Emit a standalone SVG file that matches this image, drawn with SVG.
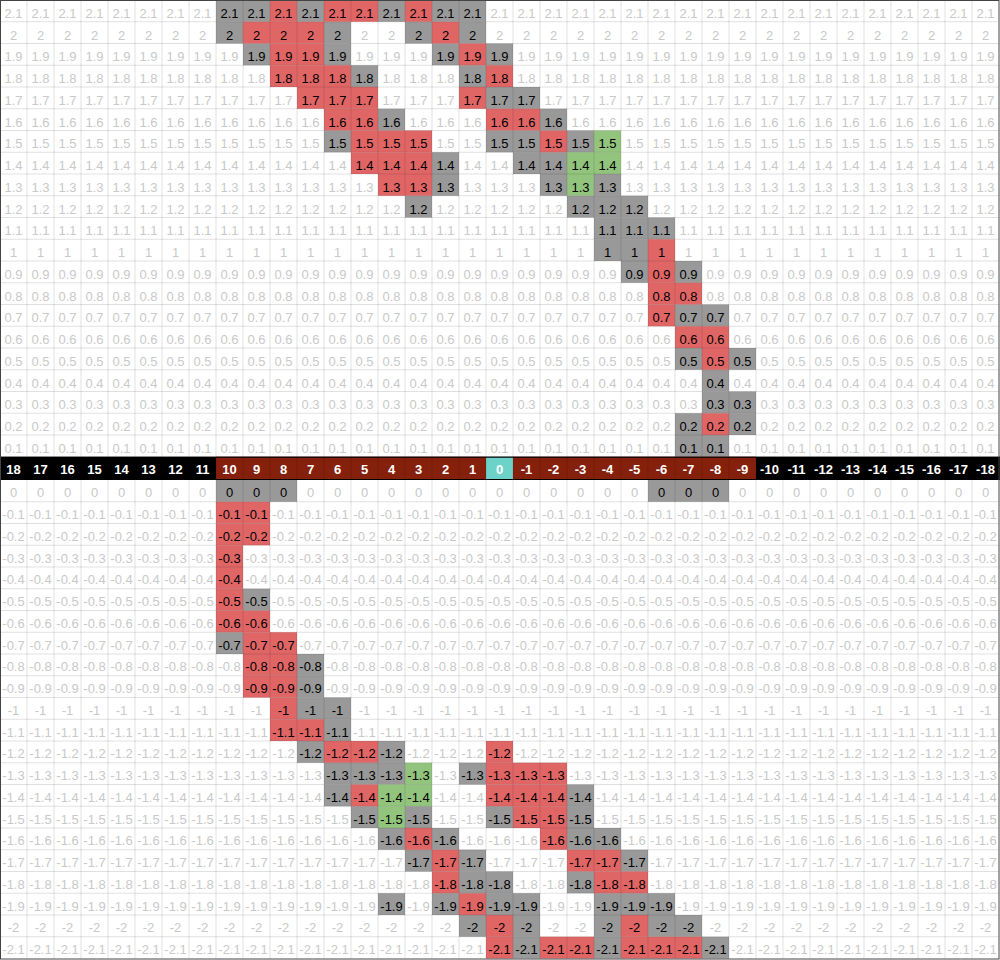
<svg xmlns="http://www.w3.org/2000/svg" width="1000" height="960" viewBox="0 0 1000 960">
<style>
text{font-family:"Liberation Sans",Arial,sans-serif;font-size:13px;text-anchor:middle;fill:#c9c9c9}
.k{fill:#000}
#axis text{fill:#fff;font-weight:bold}
.c rect{width:27px;height:21.75px}
</style>
<rect x="0" y="0" width="1000" height="960" fill="#fff"/>
<g id="fills" class="c">
<g id="gray" fill="#999">
<rect x="216" y="0"/><rect x="243" y="0"/><rect x="297" y="0"/><rect x="378" y="0"/><rect x="432" y="0"/><rect x="459" y="0"/>
<rect x="216" y="21.75"/><rect x="324" y="21.75"/><rect x="405" y="21.75"/><rect x="459" y="21.75"/>
<rect x="243" y="43.5"/><rect x="324" y="43.5"/><rect x="432" y="43.5"/><rect x="486" y="43.5"/>
<rect x="351" y="65.25"/><rect x="459" y="65.25"/>
<rect x="486" y="87"/><rect x="513" y="87"/>
<rect x="378" y="108.75"/><rect x="540" y="108.75"/>
<rect x="324" y="130.5"/><rect x="486" y="130.5"/><rect x="513" y="130.5"/><rect x="567" y="130.5"/>
<rect x="432" y="152.25"/><rect x="513" y="152.25"/><rect x="540" y="152.25"/>
<rect x="432" y="174"/><rect x="540" y="174"/><rect x="594" y="174"/>
<rect x="405" y="195.75"/><rect x="567" y="195.75"/><rect x="594" y="195.75"/><rect x="621" y="195.75"/>
<rect x="594" y="217.5"/><rect x="621" y="217.5"/><rect x="648" y="217.5"/>
<rect x="594" y="239.25"/><rect x="621" y="239.25"/>
<rect x="621" y="261"/><rect x="675" y="261"/>
<rect x="675" y="304.5"/><rect x="702" y="304.5"/>
<rect x="675" y="348"/><rect x="729" y="348"/>
<rect x="702" y="369.75"/>
<rect x="702" y="391.5"/><rect x="729" y="391.5"/>
<rect x="675" y="413.25"/><rect x="729" y="413.25"/>
<rect x="675" y="435"/><rect x="702" y="435"/>
<rect x="216" y="480"/><rect x="243" y="480"/><rect x="270" y="480"/><rect x="648" y="480"/><rect x="675" y="480"/><rect x="702" y="480"/>
<rect x="243" y="588.75"/>
<rect x="216" y="632.25"/>
<rect x="297" y="654"/>
<rect x="297" y="675.75"/>
<rect x="297" y="697.5"/><rect x="324" y="697.5"/>
<rect x="324" y="719.25"/>
<rect x="297" y="741"/><rect x="378" y="741"/>
<rect x="324" y="762.75"/><rect x="351" y="762.75"/><rect x="378" y="762.75"/><rect x="459" y="762.75"/>
<rect x="324" y="784.5"/><rect x="567" y="784.5"/>
<rect x="351" y="806.25"/><rect x="405" y="806.25"/><rect x="486" y="806.25"/><rect x="567" y="806.25"/>
<rect x="378" y="828"/><rect x="432" y="828"/><rect x="567" y="828"/><rect x="594" y="828"/>
<rect x="405" y="849.75"/><rect x="459" y="849.75"/><rect x="621" y="849.75"/>
<rect x="459" y="871.5"/><rect x="486" y="871.5"/><rect x="567" y="871.5"/>
<rect x="378" y="893.25"/><rect x="432" y="893.25"/><rect x="486" y="893.25"/><rect x="513" y="893.25"/><rect x="594" y="893.25"/><rect x="621" y="893.25"/><rect x="648" y="893.25"/>
<rect x="459" y="915"/><rect x="513" y="915"/><rect x="594" y="915"/><rect x="648" y="915"/><rect x="675" y="915"/>
<rect x="513" y="936.75"/><rect x="594" y="936.75"/><rect x="702" y="936.75"/>
</g>
<g id="red" fill="#e06666">
<rect x="270" y="0"/><rect x="324" y="0"/><rect x="351" y="0"/><rect x="405" y="0"/>
<rect x="243" y="21.75"/><rect x="270" y="21.75"/><rect x="297" y="21.75"/><rect x="432" y="21.75"/>
<rect x="270" y="43.5"/><rect x="297" y="43.5"/><rect x="459" y="43.5"/>
<rect x="270" y="65.25"/><rect x="297" y="65.25"/><rect x="324" y="65.25"/><rect x="486" y="65.25"/>
<rect x="297" y="87"/><rect x="324" y="87"/><rect x="351" y="87"/><rect x="459" y="87"/>
<rect x="324" y="108.75"/><rect x="351" y="108.75"/><rect x="486" y="108.75"/><rect x="513" y="108.75"/>
<rect x="351" y="130.5"/><rect x="378" y="130.5"/><rect x="405" y="130.5"/><rect x="540" y="130.5"/>
<rect x="351" y="152.25"/><rect x="378" y="152.25"/><rect x="405" y="152.25"/>
<rect x="378" y="174"/><rect x="405" y="174"/>
<rect x="648" y="239.25"/>
<rect x="648" y="261"/>
<rect x="648" y="282.75"/><rect x="675" y="282.75"/>
<rect x="648" y="304.5"/>
<rect x="675" y="326.25"/><rect x="702" y="326.25"/>
<rect x="702" y="348"/>
<rect x="702" y="413.25"/>
<rect x="216" y="501.75"/><rect x="243" y="501.75"/>
<rect x="216" y="523.5"/><rect x="243" y="523.5"/>
<rect x="216" y="545.25"/>
<rect x="216" y="567"/>
<rect x="216" y="588.75"/>
<rect x="216" y="610.5"/><rect x="243" y="610.5"/>
<rect x="243" y="632.25"/><rect x="270" y="632.25"/>
<rect x="243" y="654"/><rect x="270" y="654"/>
<rect x="243" y="675.75"/><rect x="270" y="675.75"/>
<rect x="270" y="697.5"/>
<rect x="270" y="719.25"/><rect x="297" y="719.25"/>
<rect x="324" y="741"/><rect x="351" y="741"/><rect x="486" y="741"/>
<rect x="486" y="762.75"/><rect x="513" y="762.75"/><rect x="540" y="762.75"/>
<rect x="351" y="784.5"/><rect x="486" y="784.5"/><rect x="513" y="784.5"/><rect x="540" y="784.5"/>
<rect x="513" y="806.25"/><rect x="540" y="806.25"/>
<rect x="405" y="828"/><rect x="540" y="828"/>
<rect x="432" y="849.75"/><rect x="567" y="849.75"/><rect x="594" y="849.75"/>
<rect x="432" y="871.5"/><rect x="594" y="871.5"/><rect x="621" y="871.5"/>
<rect x="459" y="893.25"/>
<rect x="486" y="915"/><rect x="621" y="915"/>
<rect x="486" y="936.75"/><rect x="540" y="936.75"/><rect x="567" y="936.75"/><rect x="621" y="936.75"/><rect x="648" y="936.75"/><rect x="675" y="936.75"/>
</g>
<g id="green" fill="#93c47d">
<rect x="594" y="130.5"/>
<rect x="567" y="152.25"/><rect x="594" y="152.25"/>
<rect x="567" y="174"/>
<rect x="405" y="762.75"/>
<rect x="378" y="784.5"/><rect x="405" y="784.5"/>
<rect x="378" y="806.25"/>
</g>
</g>
<g id="axis-row">
<rect x="0" y="456.75" width="1000" height="23.25" fill="#000"/>
<rect x="216" y="456.75" width="540" height="23.25" fill="#85200c"/>
<rect x="486" y="456.75" width="27" height="23.25" fill="#6dd3c9"/>
</g>
<g id="grid" fill="none" stroke="#000" stroke-opacity="0.12" stroke-width="1">
<path d="M0 21.75h999m-999 21.75h999m-999 21.75h999m-999 21.75h999m-999 21.75h999m-999 21.75h999m-999 21.75h999m-999 21.75h999m-999 21.75h999m-999 21.75h999m-999 21.75h999m-999 21.75h999m-999 21.75h999m-999 21.75h999m-999 21.75h999m-999 21.75h999m-999 21.75h999m-999 21.75h999m-999 21.75h999m-999 21.75h999"/>
<path d="M0 501.75h999m-999 21.75h999m-999 21.75h999m-999 21.75h999m-999 21.75h999m-999 21.75h999m-999 21.75h999m-999 21.75h999m-999 21.75h999m-999 21.75h999m-999 21.75h999m-999 21.75h999m-999 21.75h999m-999 21.75h999m-999 21.75h999m-999 21.75h999m-999 21.75h999m-999 21.75h999m-999 21.75h999m-999 21.75h999m-999 21.75h999"/>
<path d="M27 0v958.5m27-958.5v958.5m27-958.5v958.5m27-958.5v958.5m27-958.5v958.5m27-958.5v958.5m27-958.5v958.5m27-958.5v958.5m27-958.5v958.5m27-958.5v958.5m27-958.5v958.5m27-958.5v958.5m27-958.5v958.5m27-958.5v958.5m27-958.5v958.5m27-958.5v958.5m27-958.5v958.5m27-958.5v958.5m27-958.5v958.5m27-958.5v958.5m27-958.5v958.5m27-958.5v958.5m27-958.5v958.5m27-958.5v958.5m27-958.5v958.5m27-958.5v958.5m27-958.5v958.5m27-958.5v958.5m27-958.5v958.5m27-958.5v958.5m27-958.5v958.5m27-958.5v958.5m27-958.5v958.5m27-958.5v958.5m27-958.5v958.5m27-958.5v958.5"/>
</g>
<g id="axis-lines" stroke="#000" stroke-width="1">
<path d="M0 457.25H1000M0 479.5H1000"/>
</g>
<rect id="border" x="0.5" y="0.5" width="998.5" height="958.5" fill="none" stroke="#444" stroke-width="1"/>
<g id="labels">
<g transform="translate(13.5,17.8)"><text x="0">2.1</text><text x="27">2.1</text><text x="54">2.1</text><text x="81">2.1</text><text x="108">2.1</text><text x="135">2.1</text><text x="162">2.1</text><text x="189">2.1</text><text x="216" class="k">2.1</text><text x="243" class="k">2.1</text><text x="270" class="k">2.1</text><text x="297" class="k">2.1</text><text x="324" class="k">2.1</text><text x="351" class="k">2.1</text><text x="378" class="k">2.1</text><text x="405" class="k">2.1</text><text x="432" class="k">2.1</text><text x="459" class="k">2.1</text><text x="486">2.1</text><text x="513">2.1</text><text x="540">2.1</text><text x="567">2.1</text><text x="594">2.1</text><text x="621">2.1</text><text x="648">2.1</text><text x="675">2.1</text><text x="702">2.1</text><text x="729">2.1</text><text x="756">2.1</text><text x="783">2.1</text><text x="810">2.1</text><text x="837">2.1</text><text x="864">2.1</text><text x="891">2.1</text><text x="918">2.1</text><text x="945">2.1</text><text x="972">2.1</text></g>
<g transform="translate(13.5,39.55)"><text x="0">2</text><text x="27">2</text><text x="54">2</text><text x="81">2</text><text x="108">2</text><text x="135">2</text><text x="162">2</text><text x="189">2</text><text x="216" class="k">2</text><text x="243" class="k">2</text><text x="270" class="k">2</text><text x="297" class="k">2</text><text x="324" class="k">2</text><text x="351">2</text><text x="378">2</text><text x="405" class="k">2</text><text x="432" class="k">2</text><text x="459" class="k">2</text><text x="486">2</text><text x="513">2</text><text x="540">2</text><text x="567">2</text><text x="594">2</text><text x="621">2</text><text x="648">2</text><text x="675">2</text><text x="702">2</text><text x="729">2</text><text x="756">2</text><text x="783">2</text><text x="810">2</text><text x="837">2</text><text x="864">2</text><text x="891">2</text><text x="918">2</text><text x="945">2</text><text x="972">2</text></g>
<g transform="translate(13.5,61.3)"><text x="0">1.9</text><text x="27">1.9</text><text x="54">1.9</text><text x="81">1.9</text><text x="108">1.9</text><text x="135">1.9</text><text x="162">1.9</text><text x="189">1.9</text><text x="216">1.9</text><text x="243" class="k">1.9</text><text x="270" class="k">1.9</text><text x="297" class="k">1.9</text><text x="324" class="k">1.9</text><text x="351">1.9</text><text x="378">1.9</text><text x="405">1.9</text><text x="432" class="k">1.9</text><text x="459" class="k">1.9</text><text x="486" class="k">1.9</text><text x="513">1.9</text><text x="540">1.9</text><text x="567">1.9</text><text x="594">1.9</text><text x="621">1.9</text><text x="648">1.9</text><text x="675">1.9</text><text x="702">1.9</text><text x="729">1.9</text><text x="756">1.9</text><text x="783">1.9</text><text x="810">1.9</text><text x="837">1.9</text><text x="864">1.9</text><text x="891">1.9</text><text x="918">1.9</text><text x="945">1.9</text><text x="972">1.9</text></g>
<g transform="translate(13.5,83.05)"><text x="0">1.8</text><text x="27">1.8</text><text x="54">1.8</text><text x="81">1.8</text><text x="108">1.8</text><text x="135">1.8</text><text x="162">1.8</text><text x="189">1.8</text><text x="216">1.8</text><text x="243">1.8</text><text x="270" class="k">1.8</text><text x="297" class="k">1.8</text><text x="324" class="k">1.8</text><text x="351" class="k">1.8</text><text x="378">1.8</text><text x="405">1.8</text><text x="432">1.8</text><text x="459" class="k">1.8</text><text x="486" class="k">1.8</text><text x="513">1.8</text><text x="540">1.8</text><text x="567">1.8</text><text x="594">1.8</text><text x="621">1.8</text><text x="648">1.8</text><text x="675">1.8</text><text x="702">1.8</text><text x="729">1.8</text><text x="756">1.8</text><text x="783">1.8</text><text x="810">1.8</text><text x="837">1.8</text><text x="864">1.8</text><text x="891">1.8</text><text x="918">1.8</text><text x="945">1.8</text><text x="972">1.8</text></g>
<g transform="translate(13.5,104.8)"><text x="0">1.7</text><text x="27">1.7</text><text x="54">1.7</text><text x="81">1.7</text><text x="108">1.7</text><text x="135">1.7</text><text x="162">1.7</text><text x="189">1.7</text><text x="216">1.7</text><text x="243">1.7</text><text x="270">1.7</text><text x="297" class="k">1.7</text><text x="324" class="k">1.7</text><text x="351" class="k">1.7</text><text x="378">1.7</text><text x="405">1.7</text><text x="432">1.7</text><text x="459" class="k">1.7</text><text x="486" class="k">1.7</text><text x="513" class="k">1.7</text><text x="540">1.7</text><text x="567">1.7</text><text x="594">1.7</text><text x="621">1.7</text><text x="648">1.7</text><text x="675">1.7</text><text x="702">1.7</text><text x="729">1.7</text><text x="756">1.7</text><text x="783">1.7</text><text x="810">1.7</text><text x="837">1.7</text><text x="864">1.7</text><text x="891">1.7</text><text x="918">1.7</text><text x="945">1.7</text><text x="972">1.7</text></g>
<g transform="translate(13.5,126.55)"><text x="0">1.6</text><text x="27">1.6</text><text x="54">1.6</text><text x="81">1.6</text><text x="108">1.6</text><text x="135">1.6</text><text x="162">1.6</text><text x="189">1.6</text><text x="216">1.6</text><text x="243">1.6</text><text x="270">1.6</text><text x="297">1.6</text><text x="324" class="k">1.6</text><text x="351" class="k">1.6</text><text x="378" class="k">1.6</text><text x="405">1.6</text><text x="432">1.6</text><text x="459">1.6</text><text x="486" class="k">1.6</text><text x="513" class="k">1.6</text><text x="540" class="k">1.6</text><text x="567">1.6</text><text x="594">1.6</text><text x="621">1.6</text><text x="648">1.6</text><text x="675">1.6</text><text x="702">1.6</text><text x="729">1.6</text><text x="756">1.6</text><text x="783">1.6</text><text x="810">1.6</text><text x="837">1.6</text><text x="864">1.6</text><text x="891">1.6</text><text x="918">1.6</text><text x="945">1.6</text><text x="972">1.6</text></g>
<g transform="translate(13.5,148.3)"><text x="0">1.5</text><text x="27">1.5</text><text x="54">1.5</text><text x="81">1.5</text><text x="108">1.5</text><text x="135">1.5</text><text x="162">1.5</text><text x="189">1.5</text><text x="216">1.5</text><text x="243">1.5</text><text x="270">1.5</text><text x="297">1.5</text><text x="324" class="k">1.5</text><text x="351" class="k">1.5</text><text x="378" class="k">1.5</text><text x="405" class="k">1.5</text><text x="432">1.5</text><text x="459">1.5</text><text x="486" class="k">1.5</text><text x="513" class="k">1.5</text><text x="540" class="k">1.5</text><text x="567" class="k">1.5</text><text x="594" class="k">1.5</text><text x="621">1.5</text><text x="648">1.5</text><text x="675">1.5</text><text x="702">1.5</text><text x="729">1.5</text><text x="756">1.5</text><text x="783">1.5</text><text x="810">1.5</text><text x="837">1.5</text><text x="864">1.5</text><text x="891">1.5</text><text x="918">1.5</text><text x="945">1.5</text><text x="972">1.5</text></g>
<g transform="translate(13.5,170.05)"><text x="0">1.4</text><text x="27">1.4</text><text x="54">1.4</text><text x="81">1.4</text><text x="108">1.4</text><text x="135">1.4</text><text x="162">1.4</text><text x="189">1.4</text><text x="216">1.4</text><text x="243">1.4</text><text x="270">1.4</text><text x="297">1.4</text><text x="324">1.4</text><text x="351" class="k">1.4</text><text x="378" class="k">1.4</text><text x="405" class="k">1.4</text><text x="432" class="k">1.4</text><text x="459">1.4</text><text x="486">1.4</text><text x="513" class="k">1.4</text><text x="540" class="k">1.4</text><text x="567" class="k">1.4</text><text x="594" class="k">1.4</text><text x="621">1.4</text><text x="648">1.4</text><text x="675">1.4</text><text x="702">1.4</text><text x="729">1.4</text><text x="756">1.4</text><text x="783">1.4</text><text x="810">1.4</text><text x="837">1.4</text><text x="864">1.4</text><text x="891">1.4</text><text x="918">1.4</text><text x="945">1.4</text><text x="972">1.4</text></g>
<g transform="translate(13.5,191.8)"><text x="0">1.3</text><text x="27">1.3</text><text x="54">1.3</text><text x="81">1.3</text><text x="108">1.3</text><text x="135">1.3</text><text x="162">1.3</text><text x="189">1.3</text><text x="216">1.3</text><text x="243">1.3</text><text x="270">1.3</text><text x="297">1.3</text><text x="324">1.3</text><text x="351">1.3</text><text x="378" class="k">1.3</text><text x="405" class="k">1.3</text><text x="432" class="k">1.3</text><text x="459">1.3</text><text x="486">1.3</text><text x="513">1.3</text><text x="540" class="k">1.3</text><text x="567" class="k">1.3</text><text x="594" class="k">1.3</text><text x="621">1.3</text><text x="648">1.3</text><text x="675">1.3</text><text x="702">1.3</text><text x="729">1.3</text><text x="756">1.3</text><text x="783">1.3</text><text x="810">1.3</text><text x="837">1.3</text><text x="864">1.3</text><text x="891">1.3</text><text x="918">1.3</text><text x="945">1.3</text><text x="972">1.3</text></g>
<g transform="translate(13.5,213.55)"><text x="0">1.2</text><text x="27">1.2</text><text x="54">1.2</text><text x="81">1.2</text><text x="108">1.2</text><text x="135">1.2</text><text x="162">1.2</text><text x="189">1.2</text><text x="216">1.2</text><text x="243">1.2</text><text x="270">1.2</text><text x="297">1.2</text><text x="324">1.2</text><text x="351">1.2</text><text x="378">1.2</text><text x="405" class="k">1.2</text><text x="432">1.2</text><text x="459">1.2</text><text x="486">1.2</text><text x="513">1.2</text><text x="540">1.2</text><text x="567" class="k">1.2</text><text x="594" class="k">1.2</text><text x="621" class="k">1.2</text><text x="648">1.2</text><text x="675">1.2</text><text x="702">1.2</text><text x="729">1.2</text><text x="756">1.2</text><text x="783">1.2</text><text x="810">1.2</text><text x="837">1.2</text><text x="864">1.2</text><text x="891">1.2</text><text x="918">1.2</text><text x="945">1.2</text><text x="972">1.2</text></g>
<g transform="translate(13.5,235.3)"><text x="0">1.1</text><text x="27">1.1</text><text x="54">1.1</text><text x="81">1.1</text><text x="108">1.1</text><text x="135">1.1</text><text x="162">1.1</text><text x="189">1.1</text><text x="216">1.1</text><text x="243">1.1</text><text x="270">1.1</text><text x="297">1.1</text><text x="324">1.1</text><text x="351">1.1</text><text x="378">1.1</text><text x="405">1.1</text><text x="432">1.1</text><text x="459">1.1</text><text x="486">1.1</text><text x="513">1.1</text><text x="540">1.1</text><text x="567">1.1</text><text x="594" class="k">1.1</text><text x="621" class="k">1.1</text><text x="648" class="k">1.1</text><text x="675">1.1</text><text x="702">1.1</text><text x="729">1.1</text><text x="756">1.1</text><text x="783">1.1</text><text x="810">1.1</text><text x="837">1.1</text><text x="864">1.1</text><text x="891">1.1</text><text x="918">1.1</text><text x="945">1.1</text><text x="972">1.1</text></g>
<g transform="translate(13.5,257.05)"><text x="0">1</text><text x="27">1</text><text x="54">1</text><text x="81">1</text><text x="108">1</text><text x="135">1</text><text x="162">1</text><text x="189">1</text><text x="216">1</text><text x="243">1</text><text x="270">1</text><text x="297">1</text><text x="324">1</text><text x="351">1</text><text x="378">1</text><text x="405">1</text><text x="432">1</text><text x="459">1</text><text x="486">1</text><text x="513">1</text><text x="540">1</text><text x="567">1</text><text x="594" class="k">1</text><text x="621" class="k">1</text><text x="648" class="k">1</text><text x="675">1</text><text x="702">1</text><text x="729">1</text><text x="756">1</text><text x="783">1</text><text x="810">1</text><text x="837">1</text><text x="864">1</text><text x="891">1</text><text x="918">1</text><text x="945">1</text><text x="972">1</text></g>
<g transform="translate(13.5,278.8)"><text x="0">0.9</text><text x="27">0.9</text><text x="54">0.9</text><text x="81">0.9</text><text x="108">0.9</text><text x="135">0.9</text><text x="162">0.9</text><text x="189">0.9</text><text x="216">0.9</text><text x="243">0.9</text><text x="270">0.9</text><text x="297">0.9</text><text x="324">0.9</text><text x="351">0.9</text><text x="378">0.9</text><text x="405">0.9</text><text x="432">0.9</text><text x="459">0.9</text><text x="486">0.9</text><text x="513">0.9</text><text x="540">0.9</text><text x="567">0.9</text><text x="594">0.9</text><text x="621" class="k">0.9</text><text x="648" class="k">0.9</text><text x="675" class="k">0.9</text><text x="702">0.9</text><text x="729">0.9</text><text x="756">0.9</text><text x="783">0.9</text><text x="810">0.9</text><text x="837">0.9</text><text x="864">0.9</text><text x="891">0.9</text><text x="918">0.9</text><text x="945">0.9</text><text x="972">0.9</text></g>
<g transform="translate(13.5,300.55)"><text x="0">0.8</text><text x="27">0.8</text><text x="54">0.8</text><text x="81">0.8</text><text x="108">0.8</text><text x="135">0.8</text><text x="162">0.8</text><text x="189">0.8</text><text x="216">0.8</text><text x="243">0.8</text><text x="270">0.8</text><text x="297">0.8</text><text x="324">0.8</text><text x="351">0.8</text><text x="378">0.8</text><text x="405">0.8</text><text x="432">0.8</text><text x="459">0.8</text><text x="486">0.8</text><text x="513">0.8</text><text x="540">0.8</text><text x="567">0.8</text><text x="594">0.8</text><text x="621">0.8</text><text x="648" class="k">0.8</text><text x="675" class="k">0.8</text><text x="702">0.8</text><text x="729">0.8</text><text x="756">0.8</text><text x="783">0.8</text><text x="810">0.8</text><text x="837">0.8</text><text x="864">0.8</text><text x="891">0.8</text><text x="918">0.8</text><text x="945">0.8</text><text x="972">0.8</text></g>
<g transform="translate(13.5,322.3)"><text x="0">0.7</text><text x="27">0.7</text><text x="54">0.7</text><text x="81">0.7</text><text x="108">0.7</text><text x="135">0.7</text><text x="162">0.7</text><text x="189">0.7</text><text x="216">0.7</text><text x="243">0.7</text><text x="270">0.7</text><text x="297">0.7</text><text x="324">0.7</text><text x="351">0.7</text><text x="378">0.7</text><text x="405">0.7</text><text x="432">0.7</text><text x="459">0.7</text><text x="486">0.7</text><text x="513">0.7</text><text x="540">0.7</text><text x="567">0.7</text><text x="594">0.7</text><text x="621">0.7</text><text x="648" class="k">0.7</text><text x="675" class="k">0.7</text><text x="702" class="k">0.7</text><text x="729">0.7</text><text x="756">0.7</text><text x="783">0.7</text><text x="810">0.7</text><text x="837">0.7</text><text x="864">0.7</text><text x="891">0.7</text><text x="918">0.7</text><text x="945">0.7</text><text x="972">0.7</text></g>
<g transform="translate(13.5,344.05)"><text x="0">0.6</text><text x="27">0.6</text><text x="54">0.6</text><text x="81">0.6</text><text x="108">0.6</text><text x="135">0.6</text><text x="162">0.6</text><text x="189">0.6</text><text x="216">0.6</text><text x="243">0.6</text><text x="270">0.6</text><text x="297">0.6</text><text x="324">0.6</text><text x="351">0.6</text><text x="378">0.6</text><text x="405">0.6</text><text x="432">0.6</text><text x="459">0.6</text><text x="486">0.6</text><text x="513">0.6</text><text x="540">0.6</text><text x="567">0.6</text><text x="594">0.6</text><text x="621">0.6</text><text x="648">0.6</text><text x="675" class="k">0.6</text><text x="702" class="k">0.6</text><text x="729">0.6</text><text x="756">0.6</text><text x="783">0.6</text><text x="810">0.6</text><text x="837">0.6</text><text x="864">0.6</text><text x="891">0.6</text><text x="918">0.6</text><text x="945">0.6</text><text x="972">0.6</text></g>
<g transform="translate(13.5,365.8)"><text x="0">0.5</text><text x="27">0.5</text><text x="54">0.5</text><text x="81">0.5</text><text x="108">0.5</text><text x="135">0.5</text><text x="162">0.5</text><text x="189">0.5</text><text x="216">0.5</text><text x="243">0.5</text><text x="270">0.5</text><text x="297">0.5</text><text x="324">0.5</text><text x="351">0.5</text><text x="378">0.5</text><text x="405">0.5</text><text x="432">0.5</text><text x="459">0.5</text><text x="486">0.5</text><text x="513">0.5</text><text x="540">0.5</text><text x="567">0.5</text><text x="594">0.5</text><text x="621">0.5</text><text x="648">0.5</text><text x="675" class="k">0.5</text><text x="702" class="k">0.5</text><text x="729" class="k">0.5</text><text x="756">0.5</text><text x="783">0.5</text><text x="810">0.5</text><text x="837">0.5</text><text x="864">0.5</text><text x="891">0.5</text><text x="918">0.5</text><text x="945">0.5</text><text x="972">0.5</text></g>
<g transform="translate(13.5,387.55)"><text x="0">0.4</text><text x="27">0.4</text><text x="54">0.4</text><text x="81">0.4</text><text x="108">0.4</text><text x="135">0.4</text><text x="162">0.4</text><text x="189">0.4</text><text x="216">0.4</text><text x="243">0.4</text><text x="270">0.4</text><text x="297">0.4</text><text x="324">0.4</text><text x="351">0.4</text><text x="378">0.4</text><text x="405">0.4</text><text x="432">0.4</text><text x="459">0.4</text><text x="486">0.4</text><text x="513">0.4</text><text x="540">0.4</text><text x="567">0.4</text><text x="594">0.4</text><text x="621">0.4</text><text x="648">0.4</text><text x="675">0.4</text><text x="702" class="k">0.4</text><text x="729">0.4</text><text x="756">0.4</text><text x="783">0.4</text><text x="810">0.4</text><text x="837">0.4</text><text x="864">0.4</text><text x="891">0.4</text><text x="918">0.4</text><text x="945">0.4</text><text x="972">0.4</text></g>
<g transform="translate(13.5,409.3)"><text x="0">0.3</text><text x="27">0.3</text><text x="54">0.3</text><text x="81">0.3</text><text x="108">0.3</text><text x="135">0.3</text><text x="162">0.3</text><text x="189">0.3</text><text x="216">0.3</text><text x="243">0.3</text><text x="270">0.3</text><text x="297">0.3</text><text x="324">0.3</text><text x="351">0.3</text><text x="378">0.3</text><text x="405">0.3</text><text x="432">0.3</text><text x="459">0.3</text><text x="486">0.3</text><text x="513">0.3</text><text x="540">0.3</text><text x="567">0.3</text><text x="594">0.3</text><text x="621">0.3</text><text x="648">0.3</text><text x="675">0.3</text><text x="702" class="k">0.3</text><text x="729" class="k">0.3</text><text x="756">0.3</text><text x="783">0.3</text><text x="810">0.3</text><text x="837">0.3</text><text x="864">0.3</text><text x="891">0.3</text><text x="918">0.3</text><text x="945">0.3</text><text x="972">0.3</text></g>
<g transform="translate(13.5,431.05)"><text x="0">0.2</text><text x="27">0.2</text><text x="54">0.2</text><text x="81">0.2</text><text x="108">0.2</text><text x="135">0.2</text><text x="162">0.2</text><text x="189">0.2</text><text x="216">0.2</text><text x="243">0.2</text><text x="270">0.2</text><text x="297">0.2</text><text x="324">0.2</text><text x="351">0.2</text><text x="378">0.2</text><text x="405">0.2</text><text x="432">0.2</text><text x="459">0.2</text><text x="486">0.2</text><text x="513">0.2</text><text x="540">0.2</text><text x="567">0.2</text><text x="594">0.2</text><text x="621">0.2</text><text x="648">0.2</text><text x="675" class="k">0.2</text><text x="702" class="k">0.2</text><text x="729" class="k">0.2</text><text x="756">0.2</text><text x="783">0.2</text><text x="810">0.2</text><text x="837">0.2</text><text x="864">0.2</text><text x="891">0.2</text><text x="918">0.2</text><text x="945">0.2</text><text x="972">0.2</text></g>
<g transform="translate(13.5,452.8)"><text x="0">0.1</text><text x="27">0.1</text><text x="54">0.1</text><text x="81">0.1</text><text x="108">0.1</text><text x="135">0.1</text><text x="162">0.1</text><text x="189">0.1</text><text x="216">0.1</text><text x="243">0.1</text><text x="270">0.1</text><text x="297">0.1</text><text x="324">0.1</text><text x="351">0.1</text><text x="378">0.1</text><text x="405">0.1</text><text x="432">0.1</text><text x="459">0.1</text><text x="486">0.1</text><text x="513">0.1</text><text x="540">0.1</text><text x="567">0.1</text><text x="594">0.1</text><text x="621">0.1</text><text x="648">0.1</text><text x="675" class="k">0.1</text><text x="702" class="k">0.1</text><text x="729">0.1</text><text x="756">0.1</text><text x="783">0.1</text><text x="810">0.1</text><text x="837">0.1</text><text x="864">0.1</text><text x="891">0.1</text><text x="918">0.1</text><text x="945">0.1</text><text x="972">0.1</text></g>
<g id="axis" transform="translate(13.5,474.3)"><text x="0">18</text><text x="27">17</text><text x="54">16</text><text x="81">15</text><text x="108">14</text><text x="135">13</text><text x="162">12</text><text x="189">11</text><text x="216">10</text><text x="243">9</text><text x="270">8</text><text x="297">7</text><text x="324">6</text><text x="351">5</text><text x="378">4</text><text x="405">3</text><text x="432">2</text><text x="459">1</text><text x="486">0</text><text x="513">-1</text><text x="540">-2</text><text x="567">-3</text><text x="594">-4</text><text x="621">-5</text><text x="648">-6</text><text x="675">-7</text><text x="702">-8</text><text x="729">-9</text><text x="756">-10</text><text x="783">-11</text><text x="810">-12</text><text x="837">-13</text><text x="864">-14</text><text x="891">-15</text><text x="918">-16</text><text x="945">-17</text><text x="972">-18</text></g>
<g transform="translate(13.5,497.3)"><text x="0">0</text><text x="27">0</text><text x="54">0</text><text x="81">0</text><text x="108">0</text><text x="135">0</text><text x="162">0</text><text x="189">0</text><text x="216" class="k">0</text><text x="243" class="k">0</text><text x="270" class="k">0</text><text x="297">0</text><text x="324">0</text><text x="351">0</text><text x="378">0</text><text x="405">0</text><text x="432">0</text><text x="459">0</text><text x="486">0</text><text x="513">0</text><text x="540">0</text><text x="567">0</text><text x="594">0</text><text x="621">0</text><text x="648" class="k">0</text><text x="675" class="k">0</text><text x="702" class="k">0</text><text x="729">0</text><text x="756">0</text><text x="783">0</text><text x="810">0</text><text x="837">0</text><text x="864">0</text><text x="891">0</text><text x="918">0</text><text x="945">0</text><text x="972">0</text></g>
<g transform="translate(13.5,519.05)"><text x="0">-0.1</text><text x="27">-0.1</text><text x="54">-0.1</text><text x="81">-0.1</text><text x="108">-0.1</text><text x="135">-0.1</text><text x="162">-0.1</text><text x="189">-0.1</text><text x="216" class="k">-0.1</text><text x="243" class="k">-0.1</text><text x="270">-0.1</text><text x="297">-0.1</text><text x="324">-0.1</text><text x="351">-0.1</text><text x="378">-0.1</text><text x="405">-0.1</text><text x="432">-0.1</text><text x="459">-0.1</text><text x="486">-0.1</text><text x="513">-0.1</text><text x="540">-0.1</text><text x="567">-0.1</text><text x="594">-0.1</text><text x="621">-0.1</text><text x="648">-0.1</text><text x="675">-0.1</text><text x="702">-0.1</text><text x="729">-0.1</text><text x="756">-0.1</text><text x="783">-0.1</text><text x="810">-0.1</text><text x="837">-0.1</text><text x="864">-0.1</text><text x="891">-0.1</text><text x="918">-0.1</text><text x="945">-0.1</text><text x="972">-0.1</text></g>
<g transform="translate(13.5,540.8)"><text x="0">-0.2</text><text x="27">-0.2</text><text x="54">-0.2</text><text x="81">-0.2</text><text x="108">-0.2</text><text x="135">-0.2</text><text x="162">-0.2</text><text x="189">-0.2</text><text x="216" class="k">-0.2</text><text x="243" class="k">-0.2</text><text x="270">-0.2</text><text x="297">-0.2</text><text x="324">-0.2</text><text x="351">-0.2</text><text x="378">-0.2</text><text x="405">-0.2</text><text x="432">-0.2</text><text x="459">-0.2</text><text x="486">-0.2</text><text x="513">-0.2</text><text x="540">-0.2</text><text x="567">-0.2</text><text x="594">-0.2</text><text x="621">-0.2</text><text x="648">-0.2</text><text x="675">-0.2</text><text x="702">-0.2</text><text x="729">-0.2</text><text x="756">-0.2</text><text x="783">-0.2</text><text x="810">-0.2</text><text x="837">-0.2</text><text x="864">-0.2</text><text x="891">-0.2</text><text x="918">-0.2</text><text x="945">-0.2</text><text x="972">-0.2</text></g>
<g transform="translate(13.5,562.55)"><text x="0">-0.3</text><text x="27">-0.3</text><text x="54">-0.3</text><text x="81">-0.3</text><text x="108">-0.3</text><text x="135">-0.3</text><text x="162">-0.3</text><text x="189">-0.3</text><text x="216" class="k">-0.3</text><text x="243">-0.3</text><text x="270">-0.3</text><text x="297">-0.3</text><text x="324">-0.3</text><text x="351">-0.3</text><text x="378">-0.3</text><text x="405">-0.3</text><text x="432">-0.3</text><text x="459">-0.3</text><text x="486">-0.3</text><text x="513">-0.3</text><text x="540">-0.3</text><text x="567">-0.3</text><text x="594">-0.3</text><text x="621">-0.3</text><text x="648">-0.3</text><text x="675">-0.3</text><text x="702">-0.3</text><text x="729">-0.3</text><text x="756">-0.3</text><text x="783">-0.3</text><text x="810">-0.3</text><text x="837">-0.3</text><text x="864">-0.3</text><text x="891">-0.3</text><text x="918">-0.3</text><text x="945">-0.3</text><text x="972">-0.3</text></g>
<g transform="translate(13.5,584.3)"><text x="0">-0.4</text><text x="27">-0.4</text><text x="54">-0.4</text><text x="81">-0.4</text><text x="108">-0.4</text><text x="135">-0.4</text><text x="162">-0.4</text><text x="189">-0.4</text><text x="216" class="k">-0.4</text><text x="243">-0.4</text><text x="270">-0.4</text><text x="297">-0.4</text><text x="324">-0.4</text><text x="351">-0.4</text><text x="378">-0.4</text><text x="405">-0.4</text><text x="432">-0.4</text><text x="459">-0.4</text><text x="486">-0.4</text><text x="513">-0.4</text><text x="540">-0.4</text><text x="567">-0.4</text><text x="594">-0.4</text><text x="621">-0.4</text><text x="648">-0.4</text><text x="675">-0.4</text><text x="702">-0.4</text><text x="729">-0.4</text><text x="756">-0.4</text><text x="783">-0.4</text><text x="810">-0.4</text><text x="837">-0.4</text><text x="864">-0.4</text><text x="891">-0.4</text><text x="918">-0.4</text><text x="945">-0.4</text><text x="972">-0.4</text></g>
<g transform="translate(13.5,606.05)"><text x="0">-0.5</text><text x="27">-0.5</text><text x="54">-0.5</text><text x="81">-0.5</text><text x="108">-0.5</text><text x="135">-0.5</text><text x="162">-0.5</text><text x="189">-0.5</text><text x="216" class="k">-0.5</text><text x="243" class="k">-0.5</text><text x="270">-0.5</text><text x="297">-0.5</text><text x="324">-0.5</text><text x="351">-0.5</text><text x="378">-0.5</text><text x="405">-0.5</text><text x="432">-0.5</text><text x="459">-0.5</text><text x="486">-0.5</text><text x="513">-0.5</text><text x="540">-0.5</text><text x="567">-0.5</text><text x="594">-0.5</text><text x="621">-0.5</text><text x="648">-0.5</text><text x="675">-0.5</text><text x="702">-0.5</text><text x="729">-0.5</text><text x="756">-0.5</text><text x="783">-0.5</text><text x="810">-0.5</text><text x="837">-0.5</text><text x="864">-0.5</text><text x="891">-0.5</text><text x="918">-0.5</text><text x="945">-0.5</text><text x="972">-0.5</text></g>
<g transform="translate(13.5,627.8)"><text x="0">-0.6</text><text x="27">-0.6</text><text x="54">-0.6</text><text x="81">-0.6</text><text x="108">-0.6</text><text x="135">-0.6</text><text x="162">-0.6</text><text x="189">-0.6</text><text x="216" class="k">-0.6</text><text x="243" class="k">-0.6</text><text x="270">-0.6</text><text x="297">-0.6</text><text x="324">-0.6</text><text x="351">-0.6</text><text x="378">-0.6</text><text x="405">-0.6</text><text x="432">-0.6</text><text x="459">-0.6</text><text x="486">-0.6</text><text x="513">-0.6</text><text x="540">-0.6</text><text x="567">-0.6</text><text x="594">-0.6</text><text x="621">-0.6</text><text x="648">-0.6</text><text x="675">-0.6</text><text x="702">-0.6</text><text x="729">-0.6</text><text x="756">-0.6</text><text x="783">-0.6</text><text x="810">-0.6</text><text x="837">-0.6</text><text x="864">-0.6</text><text x="891">-0.6</text><text x="918">-0.6</text><text x="945">-0.6</text><text x="972">-0.6</text></g>
<g transform="translate(13.5,649.55)"><text x="0">-0.7</text><text x="27">-0.7</text><text x="54">-0.7</text><text x="81">-0.7</text><text x="108">-0.7</text><text x="135">-0.7</text><text x="162">-0.7</text><text x="189">-0.7</text><text x="216" class="k">-0.7</text><text x="243" class="k">-0.7</text><text x="270" class="k">-0.7</text><text x="297">-0.7</text><text x="324">-0.7</text><text x="351">-0.7</text><text x="378">-0.7</text><text x="405">-0.7</text><text x="432">-0.7</text><text x="459">-0.7</text><text x="486">-0.7</text><text x="513">-0.7</text><text x="540">-0.7</text><text x="567">-0.7</text><text x="594">-0.7</text><text x="621">-0.7</text><text x="648">-0.7</text><text x="675">-0.7</text><text x="702">-0.7</text><text x="729">-0.7</text><text x="756">-0.7</text><text x="783">-0.7</text><text x="810">-0.7</text><text x="837">-0.7</text><text x="864">-0.7</text><text x="891">-0.7</text><text x="918">-0.7</text><text x="945">-0.7</text><text x="972">-0.7</text></g>
<g transform="translate(13.5,671.3)"><text x="0">-0.8</text><text x="27">-0.8</text><text x="54">-0.8</text><text x="81">-0.8</text><text x="108">-0.8</text><text x="135">-0.8</text><text x="162">-0.8</text><text x="189">-0.8</text><text x="216">-0.8</text><text x="243" class="k">-0.8</text><text x="270" class="k">-0.8</text><text x="297" class="k">-0.8</text><text x="324">-0.8</text><text x="351">-0.8</text><text x="378">-0.8</text><text x="405">-0.8</text><text x="432">-0.8</text><text x="459">-0.8</text><text x="486">-0.8</text><text x="513">-0.8</text><text x="540">-0.8</text><text x="567">-0.8</text><text x="594">-0.8</text><text x="621">-0.8</text><text x="648">-0.8</text><text x="675">-0.8</text><text x="702">-0.8</text><text x="729">-0.8</text><text x="756">-0.8</text><text x="783">-0.8</text><text x="810">-0.8</text><text x="837">-0.8</text><text x="864">-0.8</text><text x="891">-0.8</text><text x="918">-0.8</text><text x="945">-0.8</text><text x="972">-0.8</text></g>
<g transform="translate(13.5,693.05)"><text x="0">-0.9</text><text x="27">-0.9</text><text x="54">-0.9</text><text x="81">-0.9</text><text x="108">-0.9</text><text x="135">-0.9</text><text x="162">-0.9</text><text x="189">-0.9</text><text x="216">-0.9</text><text x="243" class="k">-0.9</text><text x="270" class="k">-0.9</text><text x="297" class="k">-0.9</text><text x="324">-0.9</text><text x="351">-0.9</text><text x="378">-0.9</text><text x="405">-0.9</text><text x="432">-0.9</text><text x="459">-0.9</text><text x="486">-0.9</text><text x="513">-0.9</text><text x="540">-0.9</text><text x="567">-0.9</text><text x="594">-0.9</text><text x="621">-0.9</text><text x="648">-0.9</text><text x="675">-0.9</text><text x="702">-0.9</text><text x="729">-0.9</text><text x="756">-0.9</text><text x="783">-0.9</text><text x="810">-0.9</text><text x="837">-0.9</text><text x="864">-0.9</text><text x="891">-0.9</text><text x="918">-0.9</text><text x="945">-0.9</text><text x="972">-0.9</text></g>
<g transform="translate(13.5,714.8)"><text x="0">-1</text><text x="27">-1</text><text x="54">-1</text><text x="81">-1</text><text x="108">-1</text><text x="135">-1</text><text x="162">-1</text><text x="189">-1</text><text x="216">-1</text><text x="243">-1</text><text x="270" class="k">-1</text><text x="297" class="k">-1</text><text x="324" class="k">-1</text><text x="351">-1</text><text x="378">-1</text><text x="405">-1</text><text x="432">-1</text><text x="459">-1</text><text x="486">-1</text><text x="513">-1</text><text x="540">-1</text><text x="567">-1</text><text x="594">-1</text><text x="621">-1</text><text x="648">-1</text><text x="675">-1</text><text x="702">-1</text><text x="729">-1</text><text x="756">-1</text><text x="783">-1</text><text x="810">-1</text><text x="837">-1</text><text x="864">-1</text><text x="891">-1</text><text x="918">-1</text><text x="945">-1</text><text x="972">-1</text></g>
<g transform="translate(13.5,736.55)"><text x="0">-1.1</text><text x="27">-1.1</text><text x="54">-1.1</text><text x="81">-1.1</text><text x="108">-1.1</text><text x="135">-1.1</text><text x="162">-1.1</text><text x="189">-1.1</text><text x="216">-1.1</text><text x="243">-1.1</text><text x="270" class="k">-1.1</text><text x="297" class="k">-1.1</text><text x="324" class="k">-1.1</text><text x="351">-1.1</text><text x="378">-1.1</text><text x="405">-1.1</text><text x="432">-1.1</text><text x="459">-1.1</text><text x="486">-1.1</text><text x="513">-1.1</text><text x="540">-1.1</text><text x="567">-1.1</text><text x="594">-1.1</text><text x="621">-1.1</text><text x="648">-1.1</text><text x="675">-1.1</text><text x="702">-1.1</text><text x="729">-1.1</text><text x="756">-1.1</text><text x="783">-1.1</text><text x="810">-1.1</text><text x="837">-1.1</text><text x="864">-1.1</text><text x="891">-1.1</text><text x="918">-1.1</text><text x="945">-1.1</text><text x="972">-1.1</text></g>
<g transform="translate(13.5,758.3)"><text x="0">-1.2</text><text x="27">-1.2</text><text x="54">-1.2</text><text x="81">-1.2</text><text x="108">-1.2</text><text x="135">-1.2</text><text x="162">-1.2</text><text x="189">-1.2</text><text x="216">-1.2</text><text x="243">-1.2</text><text x="270">-1.2</text><text x="297" class="k">-1.2</text><text x="324" class="k">-1.2</text><text x="351" class="k">-1.2</text><text x="378" class="k">-1.2</text><text x="405">-1.2</text><text x="432">-1.2</text><text x="459">-1.2</text><text x="486" class="k">-1.2</text><text x="513">-1.2</text><text x="540">-1.2</text><text x="567">-1.2</text><text x="594">-1.2</text><text x="621">-1.2</text><text x="648">-1.2</text><text x="675">-1.2</text><text x="702">-1.2</text><text x="729">-1.2</text><text x="756">-1.2</text><text x="783">-1.2</text><text x="810">-1.2</text><text x="837">-1.2</text><text x="864">-1.2</text><text x="891">-1.2</text><text x="918">-1.2</text><text x="945">-1.2</text><text x="972">-1.2</text></g>
<g transform="translate(13.5,780.05)"><text x="0">-1.3</text><text x="27">-1.3</text><text x="54">-1.3</text><text x="81">-1.3</text><text x="108">-1.3</text><text x="135">-1.3</text><text x="162">-1.3</text><text x="189">-1.3</text><text x="216">-1.3</text><text x="243">-1.3</text><text x="270">-1.3</text><text x="297">-1.3</text><text x="324" class="k">-1.3</text><text x="351" class="k">-1.3</text><text x="378" class="k">-1.3</text><text x="405" class="k">-1.3</text><text x="432">-1.3</text><text x="459" class="k">-1.3</text><text x="486" class="k">-1.3</text><text x="513" class="k">-1.3</text><text x="540" class="k">-1.3</text><text x="567">-1.3</text><text x="594">-1.3</text><text x="621">-1.3</text><text x="648">-1.3</text><text x="675">-1.3</text><text x="702">-1.3</text><text x="729">-1.3</text><text x="756">-1.3</text><text x="783">-1.3</text><text x="810">-1.3</text><text x="837">-1.3</text><text x="864">-1.3</text><text x="891">-1.3</text><text x="918">-1.3</text><text x="945">-1.3</text><text x="972">-1.3</text></g>
<g transform="translate(13.5,801.8)"><text x="0">-1.4</text><text x="27">-1.4</text><text x="54">-1.4</text><text x="81">-1.4</text><text x="108">-1.4</text><text x="135">-1.4</text><text x="162">-1.4</text><text x="189">-1.4</text><text x="216">-1.4</text><text x="243">-1.4</text><text x="270">-1.4</text><text x="297">-1.4</text><text x="324" class="k">-1.4</text><text x="351" class="k">-1.4</text><text x="378" class="k">-1.4</text><text x="405" class="k">-1.4</text><text x="432">-1.4</text><text x="459">-1.4</text><text x="486" class="k">-1.4</text><text x="513" class="k">-1.4</text><text x="540" class="k">-1.4</text><text x="567" class="k">-1.4</text><text x="594">-1.4</text><text x="621">-1.4</text><text x="648">-1.4</text><text x="675">-1.4</text><text x="702">-1.4</text><text x="729">-1.4</text><text x="756">-1.4</text><text x="783">-1.4</text><text x="810">-1.4</text><text x="837">-1.4</text><text x="864">-1.4</text><text x="891">-1.4</text><text x="918">-1.4</text><text x="945">-1.4</text><text x="972">-1.4</text></g>
<g transform="translate(13.5,823.55)"><text x="0">-1.5</text><text x="27">-1.5</text><text x="54">-1.5</text><text x="81">-1.5</text><text x="108">-1.5</text><text x="135">-1.5</text><text x="162">-1.5</text><text x="189">-1.5</text><text x="216">-1.5</text><text x="243">-1.5</text><text x="270">-1.5</text><text x="297">-1.5</text><text x="324">-1.5</text><text x="351" class="k">-1.5</text><text x="378" class="k">-1.5</text><text x="405" class="k">-1.5</text><text x="432">-1.5</text><text x="459">-1.5</text><text x="486" class="k">-1.5</text><text x="513" class="k">-1.5</text><text x="540" class="k">-1.5</text><text x="567" class="k">-1.5</text><text x="594">-1.5</text><text x="621">-1.5</text><text x="648">-1.5</text><text x="675">-1.5</text><text x="702">-1.5</text><text x="729">-1.5</text><text x="756">-1.5</text><text x="783">-1.5</text><text x="810">-1.5</text><text x="837">-1.5</text><text x="864">-1.5</text><text x="891">-1.5</text><text x="918">-1.5</text><text x="945">-1.5</text><text x="972">-1.5</text></g>
<g transform="translate(13.5,845.3)"><text x="0">-1.6</text><text x="27">-1.6</text><text x="54">-1.6</text><text x="81">-1.6</text><text x="108">-1.6</text><text x="135">-1.6</text><text x="162">-1.6</text><text x="189">-1.6</text><text x="216">-1.6</text><text x="243">-1.6</text><text x="270">-1.6</text><text x="297">-1.6</text><text x="324">-1.6</text><text x="351">-1.6</text><text x="378" class="k">-1.6</text><text x="405" class="k">-1.6</text><text x="432" class="k">-1.6</text><text x="459">-1.6</text><text x="486">-1.6</text><text x="513">-1.6</text><text x="540" class="k">-1.6</text><text x="567" class="k">-1.6</text><text x="594" class="k">-1.6</text><text x="621">-1.6</text><text x="648">-1.6</text><text x="675">-1.6</text><text x="702">-1.6</text><text x="729">-1.6</text><text x="756">-1.6</text><text x="783">-1.6</text><text x="810">-1.6</text><text x="837">-1.6</text><text x="864">-1.6</text><text x="891">-1.6</text><text x="918">-1.6</text><text x="945">-1.6</text><text x="972">-1.6</text></g>
<g transform="translate(13.5,867.05)"><text x="0">-1.7</text><text x="27">-1.7</text><text x="54">-1.7</text><text x="81">-1.7</text><text x="108">-1.7</text><text x="135">-1.7</text><text x="162">-1.7</text><text x="189">-1.7</text><text x="216">-1.7</text><text x="243">-1.7</text><text x="270">-1.7</text><text x="297">-1.7</text><text x="324">-1.7</text><text x="351">-1.7</text><text x="378">-1.7</text><text x="405" class="k">-1.7</text><text x="432" class="k">-1.7</text><text x="459" class="k">-1.7</text><text x="486">-1.7</text><text x="513">-1.7</text><text x="540">-1.7</text><text x="567" class="k">-1.7</text><text x="594" class="k">-1.7</text><text x="621" class="k">-1.7</text><text x="648">-1.7</text><text x="675">-1.7</text><text x="702">-1.7</text><text x="729">-1.7</text><text x="756">-1.7</text><text x="783">-1.7</text><text x="810">-1.7</text><text x="837">-1.7</text><text x="864">-1.7</text><text x="891">-1.7</text><text x="918">-1.7</text><text x="945">-1.7</text><text x="972">-1.7</text></g>
<g transform="translate(13.5,888.8)"><text x="0">-1.8</text><text x="27">-1.8</text><text x="54">-1.8</text><text x="81">-1.8</text><text x="108">-1.8</text><text x="135">-1.8</text><text x="162">-1.8</text><text x="189">-1.8</text><text x="216">-1.8</text><text x="243">-1.8</text><text x="270">-1.8</text><text x="297">-1.8</text><text x="324">-1.8</text><text x="351">-1.8</text><text x="378">-1.8</text><text x="405">-1.8</text><text x="432" class="k">-1.8</text><text x="459" class="k">-1.8</text><text x="486" class="k">-1.8</text><text x="513">-1.8</text><text x="540">-1.8</text><text x="567" class="k">-1.8</text><text x="594" class="k">-1.8</text><text x="621" class="k">-1.8</text><text x="648">-1.8</text><text x="675">-1.8</text><text x="702">-1.8</text><text x="729">-1.8</text><text x="756">-1.8</text><text x="783">-1.8</text><text x="810">-1.8</text><text x="837">-1.8</text><text x="864">-1.8</text><text x="891">-1.8</text><text x="918">-1.8</text><text x="945">-1.8</text><text x="972">-1.8</text></g>
<g transform="translate(13.5,910.55)"><text x="0">-1.9</text><text x="27">-1.9</text><text x="54">-1.9</text><text x="81">-1.9</text><text x="108">-1.9</text><text x="135">-1.9</text><text x="162">-1.9</text><text x="189">-1.9</text><text x="216">-1.9</text><text x="243">-1.9</text><text x="270">-1.9</text><text x="297">-1.9</text><text x="324">-1.9</text><text x="351">-1.9</text><text x="378" class="k">-1.9</text><text x="405">-1.9</text><text x="432" class="k">-1.9</text><text x="459" class="k">-1.9</text><text x="486" class="k">-1.9</text><text x="513" class="k">-1.9</text><text x="540">-1.9</text><text x="567">-1.9</text><text x="594" class="k">-1.9</text><text x="621" class="k">-1.9</text><text x="648" class="k">-1.9</text><text x="675">-1.9</text><text x="702">-1.9</text><text x="729">-1.9</text><text x="756">-1.9</text><text x="783">-1.9</text><text x="810">-1.9</text><text x="837">-1.9</text><text x="864">-1.9</text><text x="891">-1.9</text><text x="918">-1.9</text><text x="945">-1.9</text><text x="972">-1.9</text></g>
<g transform="translate(13.5,932.3)"><text x="0">-2</text><text x="27">-2</text><text x="54">-2</text><text x="81">-2</text><text x="108">-2</text><text x="135">-2</text><text x="162">-2</text><text x="189">-2</text><text x="216">-2</text><text x="243">-2</text><text x="270">-2</text><text x="297">-2</text><text x="324">-2</text><text x="351">-2</text><text x="378">-2</text><text x="405">-2</text><text x="432">-2</text><text x="459" class="k">-2</text><text x="486" class="k">-2</text><text x="513" class="k">-2</text><text x="540">-2</text><text x="567">-2</text><text x="594" class="k">-2</text><text x="621" class="k">-2</text><text x="648" class="k">-2</text><text x="675" class="k">-2</text><text x="702">-2</text><text x="729">-2</text><text x="756">-2</text><text x="783">-2</text><text x="810">-2</text><text x="837">-2</text><text x="864">-2</text><text x="891">-2</text><text x="918">-2</text><text x="945">-2</text><text x="972">-2</text></g>
<g transform="translate(13.5,954.05)"><text x="0">-2.1</text><text x="27">-2.1</text><text x="54">-2.1</text><text x="81">-2.1</text><text x="108">-2.1</text><text x="135">-2.1</text><text x="162">-2.1</text><text x="189">-2.1</text><text x="216">-2.1</text><text x="243">-2.1</text><text x="270">-2.1</text><text x="297">-2.1</text><text x="324">-2.1</text><text x="351">-2.1</text><text x="378">-2.1</text><text x="405">-2.1</text><text x="432">-2.1</text><text x="459">-2.1</text><text x="486" class="k">-2.1</text><text x="513" class="k">-2.1</text><text x="540" class="k">-2.1</text><text x="567" class="k">-2.1</text><text x="594" class="k">-2.1</text><text x="621" class="k">-2.1</text><text x="648" class="k">-2.1</text><text x="675" class="k">-2.1</text><text x="702" class="k">-2.1</text><text x="729">-2.1</text><text x="756">-2.1</text><text x="783">-2.1</text><text x="810">-2.1</text><text x="837">-2.1</text><text x="864">-2.1</text><text x="891">-2.1</text><text x="918">-2.1</text><text x="945">-2.1</text><text x="972">-2.1</text></g>
</g>
</svg>
